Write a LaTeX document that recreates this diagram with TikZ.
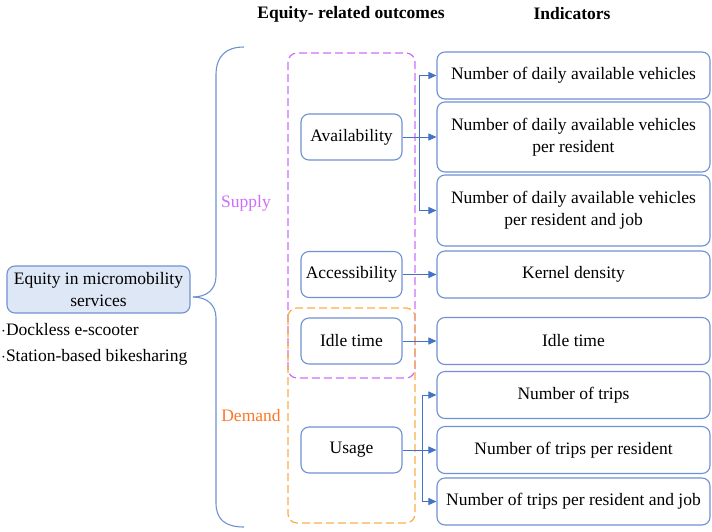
\documentclass[tikz,border=0pt]{standalone}
\usepackage{fontspec}
\setmainfont{Liberation Serif}
\usetikzlibrary{arrows.meta}
\definecolor{boxblue}{RGB}{110,145,210}
\definecolor{arrblue}{RGB}{68,114,196}
\definecolor{fillblue}{RGB}{222,231,245}
\definecolor{supcol}{RGB}{204,110,250}
\definecolor{demcol}{RGB}{250,120,40}
\definecolor{demdash}{RGB}{250,175,70}
\begin{document}
\begin{tikzpicture}[x=1pt, y=-1pt,
	every node/.style={font=\fontsize{17.5}{22}\selectfont},
	outcome/.style={draw=boxblue, line width=1.1pt, rounded corners=8pt, minimum width=101pt, minimum height=46pt},
	ind/.style={draw=boxblue, line width=1.1pt, rounded corners=8pt, minimum width=273pt, minimum height=47pt, align=center},
	arr/.style={draw=arrblue, line width=1pt, -{Triangle[length=8pt, width=7pt]}}]
	
	\useasboundingbox (0,0) rectangle (712,531);
	
	% headers
	\node[font=\fontsize{17.5}{20}\selectfont\bfseries] (hOut) at (351,14) {Equity- related outcomes};
	\node[font=\fontsize{17.5}{20}\selectfont\bfseries] (hInd) at (572,14) {Indicators};
	
	% left
	\node[draw=boxblue, line width=1.1pt, fill=fillblue, rounded corners=8pt, minimum width=183pt, minimum height=47pt, align=center] (equity) at (98.5,289.5) {Equity in micromobility\\services};
	\node[anchor=west, inner sep=0pt] (dockless) at (1,330) {$\cdot$Dockless e-scooter};
	\node[anchor=west, inner sep=0pt] (station) at (1,357) {$\cdot$Station-based bikesharing};
	
	% brace
	\coordinate (tip) at (193,297);
	\draw[boxblue, line width=1.1pt] (244,47) .. controls (226,47) and (216,56) .. (216,75) -- (216,276) .. controls (216,290) and (206,297) .. (tip);
	\draw[boxblue, line width=1.1pt] (tip) .. controls (206,297) and (216,304) .. (216,318) -- (216,503) .. controls (216,520) and (226,527) .. (244,527);
	
	\node[text=supcol] (supply) at (246,203) {Supply};
	\node[text=demcol] (demand) at (251,416) {Demand};
	
	% dashed groups
	\draw[supcol, line width=1.2pt, dash pattern=on 8pt off 4pt, rounded corners=9pt] (288,53) rectangle (415,378);
	\draw[demdash, line width=1.2pt, dash pattern=on 8pt off 4pt, rounded corners=9pt] (288,308) rectangle (415,523);
	
	% outcomes
	\node[outcome] (avail) at (351.5,137) {Availability};
	\node[outcome] (access) at (351.5,274.5) {Accessibility};
	\node[outcome] (idle) at (351.5,341) {Idle time};
	\node[outcome] (usage) at (351.5,450) {Usage};
	
	% indicators
	\node[ind] (n1) at (573.5,75.5) {Number of daily available vehicles};
	\node[ind, minimum height=70pt] (n2) at (573.5,137) {Number of daily available vehicles\\per resident};
	\node[ind, minimum height=71pt] (n3) at (573.5,210.5) {Number of daily available vehicles\\per resident and job};
	\node[ind] (kern) at (573.5,274.5) {Kernel density};
	\node[ind] (idleI) at (573.5,341) {Idle time};
	\node[ind] (trips) at (573.5,395) {Number of trips};
	\node[ind] (tripsR) at (573.5,450) {Number of trips per resident};
	\node[ind] (tripsRJ) at (573.5,501.5) {Number of trips per resident and job};
	
	% arrows
	\coordinate (brA) at (419,137);
	\coordinate (brU) at (422,450);
	\draw[arr] (avail.east) -- (n2.west);
	\draw[arr] (brA) |- (n1.west);
	\draw[arr] (brA) |- (n3.west);
	\draw[arr] (access.east) -- (kern.west);
	\draw[arr] (idle.east) -- (idleI.west);
	\draw[arr] (usage.east) -- (tripsR.west);
	\draw[arr] (brU) |- (trips.west);
	\draw[arr] (brU) |- (tripsRJ.west);
	
\end{tikzpicture}
\end{document}
